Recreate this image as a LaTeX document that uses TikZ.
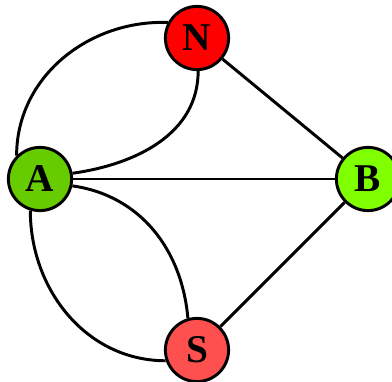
\documentclass[tikz,border=0pt]{standalone}
\usepackage{fontspec}
\setmainfont{Liberation Serif}
\usetikzlibrary{calc}
\definecolor{VtxRed}{HTML}{FF0000}
\definecolor{VtxSalmon}{HTML}{FF5050}
\definecolor{VtxGreen}{HTML}{66CC00}
\definecolor{VtxLime}{HTML}{80FF00}
\begin{document}
\begin{tikzpicture}[
      vertex/.style={circle,draw=black,line width=2.1pt,minimum size=1.58cm,inner sep=0pt,
        font=\fontsize{28}{30}\selectfont\bfseries},
      link/.style={line width=2.1pt,draw=black}
    ]
    \path[use as bounding box] (0,0) rectangle (9.8,9.55);
    \node[vertex,fill=VtxRed] (N) at (4.925,8.60) {N};
    \node[vertex,fill=VtxGreen] (A) at (1.00,5.075) {A};
    \node[vertex,fill=VtxLime] (B) at (9.20,5.075) {B};
    \node[vertex,fill=VtxSalmon] (S) at (4.925,0.80) {S};

    \draw[link] (N) -- (B);
    \draw[link] (A) -- (B);
    \draw[link] (S) -- (B);

    \draw[link] (A.135) to[out=90,in=178] (N.152);
    \draw[link] (A.10) to[out=8,in=-90] (N.-88);
    \draw[link] (A.-12) to[out=-8,in=95] (S.106);
    \draw[link] (A.-107) to[out=-90,in=180] (S.199);
  \end{tikzpicture}
\end{document}
